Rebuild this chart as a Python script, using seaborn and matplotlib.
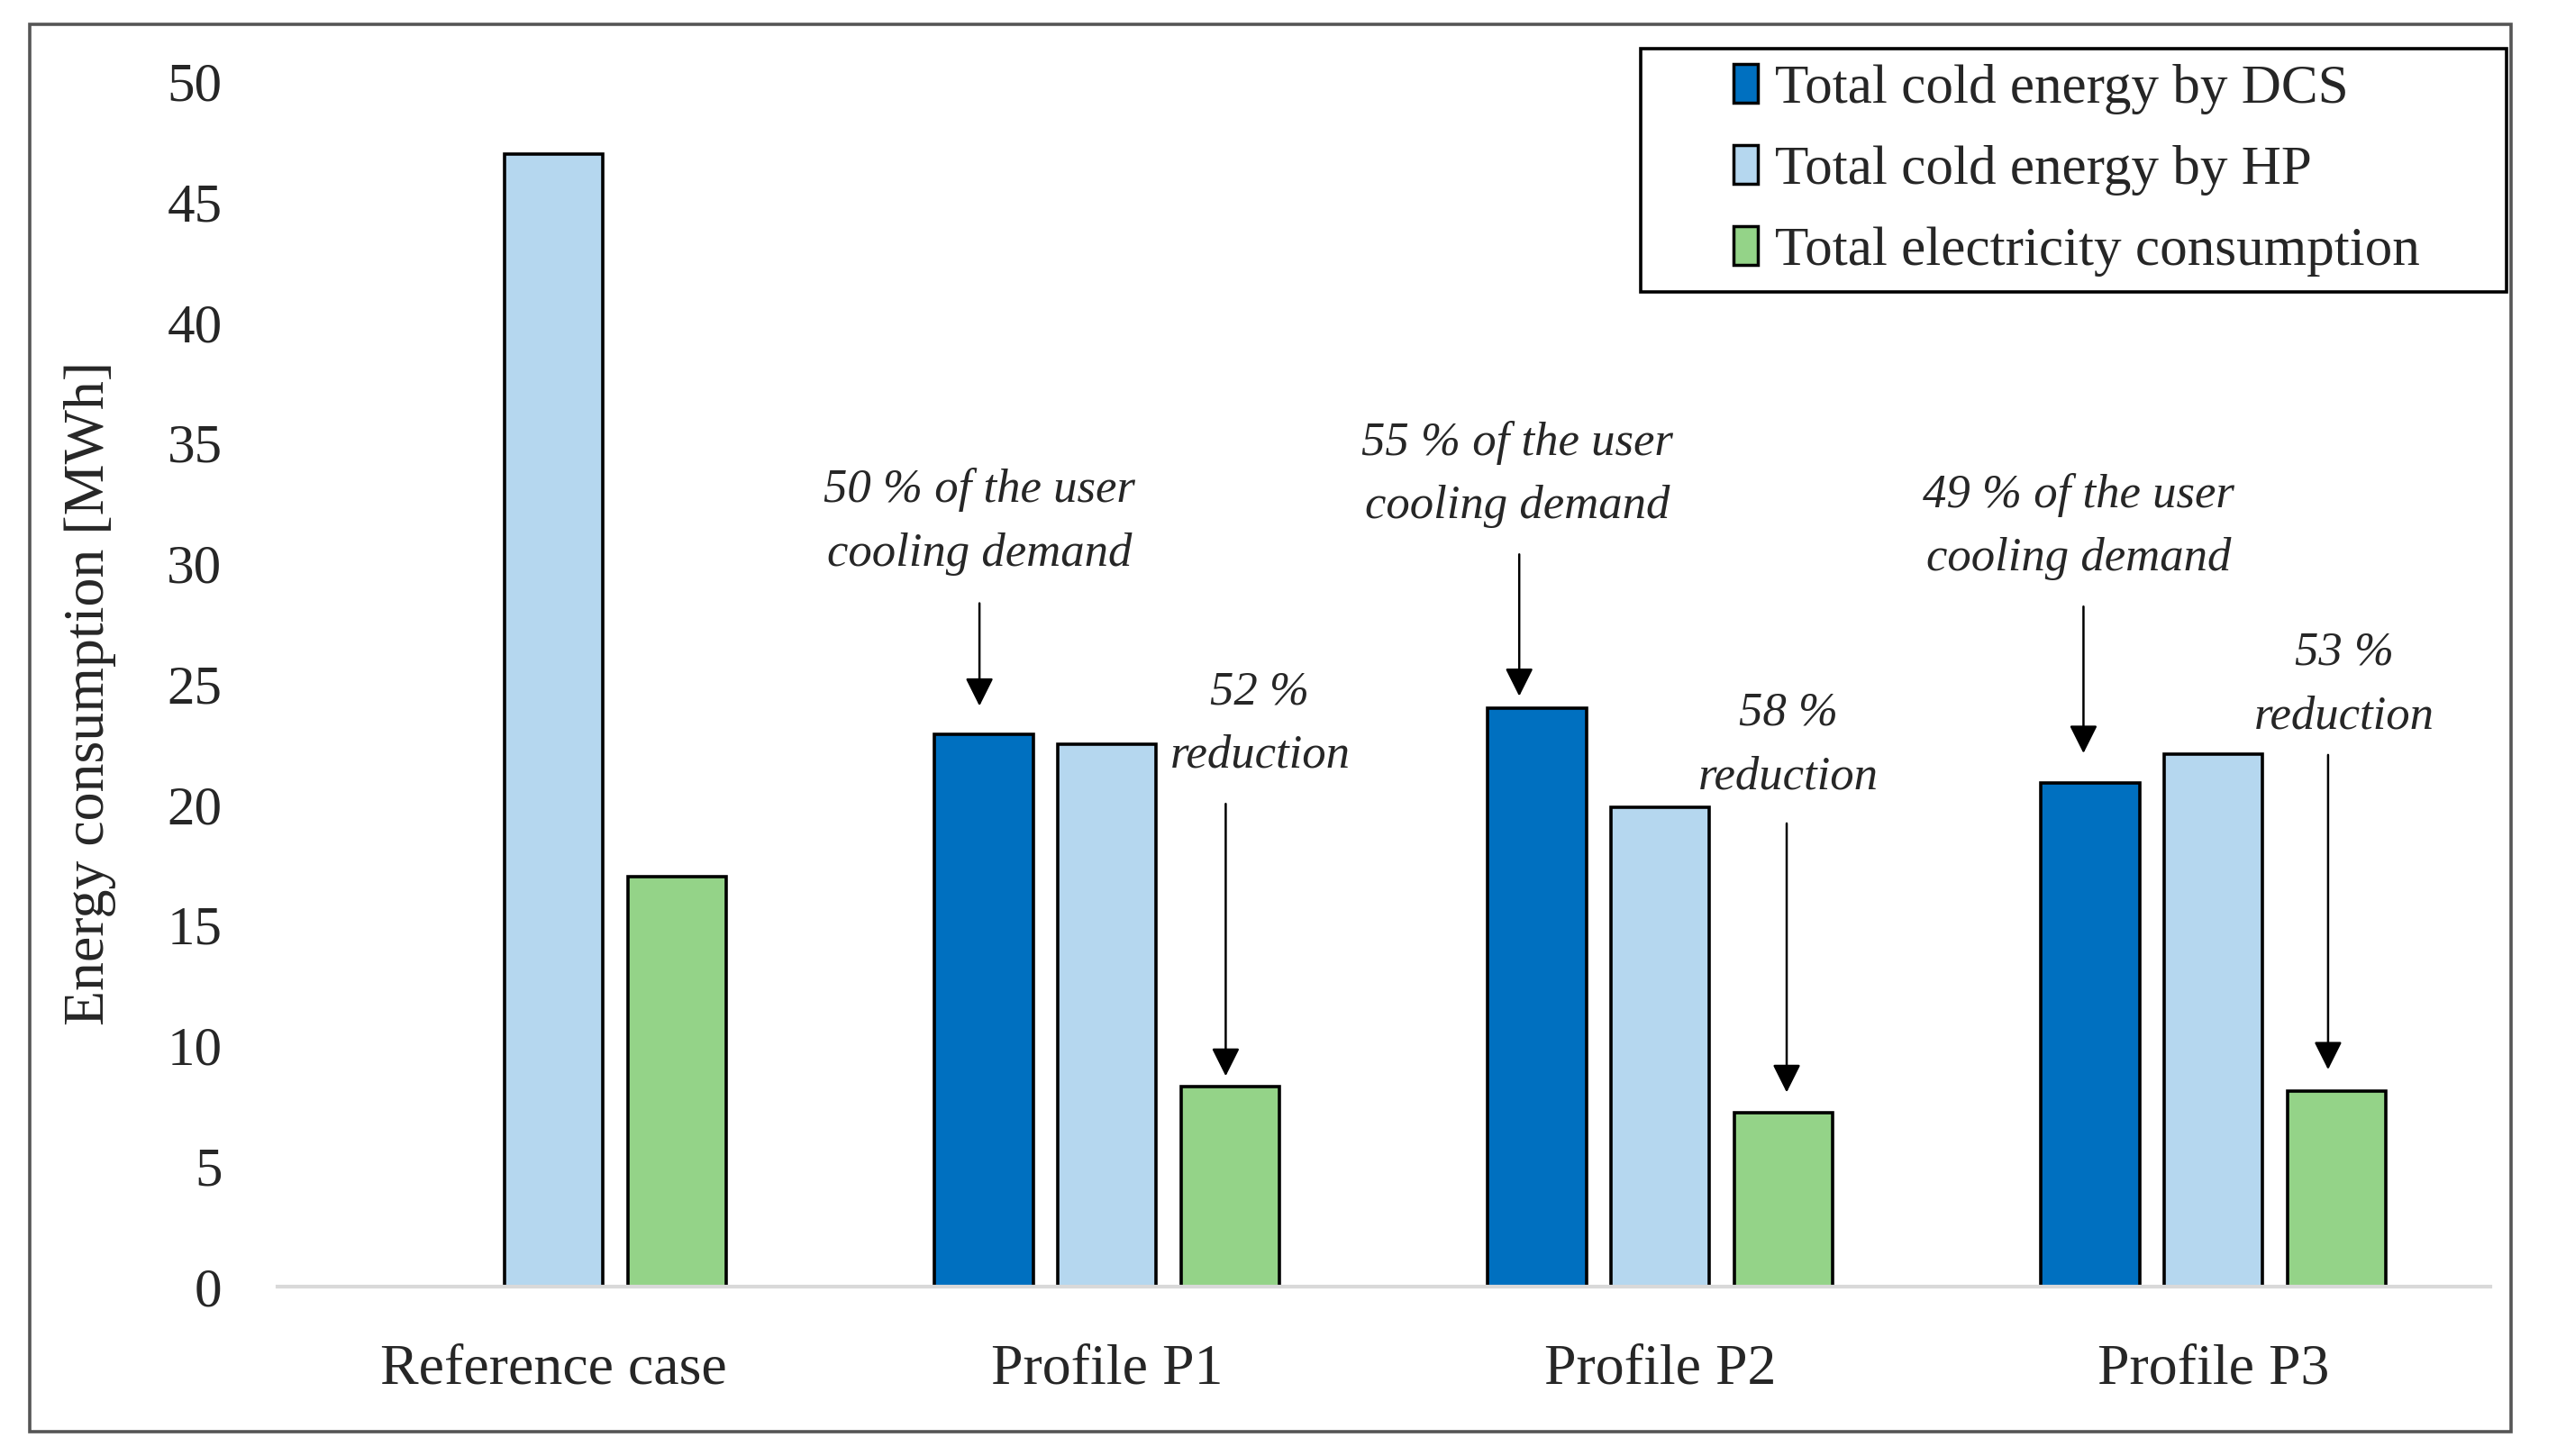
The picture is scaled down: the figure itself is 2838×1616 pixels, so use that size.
import numpy as np
import pandas as pd
import matplotlib
matplotlib.use("Agg")
import matplotlib.pyplot as plt
import matplotlib.patches as mpatches
import seaborn as sns

# ---------------- data ----------------
categories = ["Reference case", "Profile P1", "Profile P2", "Profile P3"]
series = ["Total cold energy by DCS", "Total cold energy by HP", "Total electricity consumption"]
dcs_values = [np.nan, 22.9, 24.0, 20.9]
hp_values = [47.0, 22.5, 19.9, 22.1]
elec_values = [17.0, 8.3, 7.2, 8.1]
colors = ["#0070C0", "#B5D7EF", "#94D388"]
demand_notes = ["50 % of the user\ncooling demand", "55 % of the user\ncooling demand", "49 % of the user\ncooling demand"]
reduction_notes = ["52 %\nreduction", "58 %\nreduction", "53 %\nreduction"]
yticks = [0, 5, 10, 15, 20, 25, 30, 35, 40, 45, 50]

rows = []
for s, vals in zip(series, [dcs_values, hp_values, elec_values]):
    for c, v in zip(categories, vals):
        rows.append({"case": c, "series": s, "value": v})
df = pd.DataFrame(rows)

sns.set_theme(style="white")
plt.rcParams["font.family"] = ["Liberation Serif", "DejaVu Serif"]

W, H = 2838, 1616
fig = plt.figure(figsize=(W / 100, H / 100), dpi=100)
DW, DH = 1568.0, 893.0
ax = fig.add_axes([170 / DW, 1 - 789 / DH, (1527 - 170) / DW, (789 - 50) / DH])

sns.barplot(data=df, x="case", y="value", hue="series", order=categories,
            hue_order=series, palette=colors, saturation=1, width=0.668, gap=0.2,
            edgecolor="black", linewidth=2.6, ax=ax, errorbar=None)

ax.set_ylim(0, 50)
ax.set_xlim(-0.5, 3.5)
ax.set_yticks(yticks)
ax.set_yticklabels([str(t) for t in yticks])
ax.tick_params(axis="y", length=0, pad=44, labelsize=44)
ax.tick_params(axis="x", length=0, pad=46, labelsize=46)
ax.set_xlabel("")
ax.set_ylabel("Energy consumption [MWh]", fontsize=46)
ax.yaxis.label.set_va("center")
ax.yaxis.set_label_coords(55 / DW, 1 - 425 / DH, transform=fig.transFigure)
for sp in ["top", "right", "left"]:
    ax.spines[sp].set_visible(False)
ax.spines["bottom"].set_color("#D9D9D9")
ax.spines["bottom"].set_linewidth(3)

# annotations
def dx(x):
    return (x - 340) / 339.25

def dy(y):
    return (789 - y) / 14.78

arrow = dict(arrowstyle="-|>", color="black", lw=1.8, mutation_scale=48, shrinkA=0, shrinkB=0)
demand_pos = [(601, 320, 601, 370, 433), (931, 291, 932, 340, 427), (1275, 323, 1278, 372, 462)]
red_pos = [(773, 444, 752, 493, 660), (1097, 457, 1096, 505, 670), (1438, 420, 1428, 463, 656)]
for note, (tx, ty, ax_x, y0, y1) in zip(demand_notes, demand_pos):
    ax.text(dx(tx), dy(ty), note, ha="center", va="center", fontsize=38,
            fontstyle="italic", linespacing=1.6)
    ax.annotate("", xy=(dx(ax_x), dy(y1)), xytext=(dx(ax_x), dy(y0)), arrowprops=arrow)
for note, (tx, ty, ax_x, y0, y1) in zip(reduction_notes, red_pos):
    ax.text(dx(tx), dy(ty), note, ha="center", va="center", fontsize=38,
            fontstyle="italic", linespacing=1.6)
    ax.annotate("", xy=(dx(ax_x), dy(y1)), xytext=(dx(ax_x), dy(y0)), arrowprops=arrow)

# legend
handles, labels = ax.get_legend_handles_labels()
if ax.get_legend() is not None:
    ax.get_legend().remove()
leg = fig.legend(handles, labels, loc="center left",
                 bbox_to_anchor=(1063 / DW, 1 - 104.5 / DH), bbox_transform=fig.transFigure,
                 frameon=False, fontsize=44, handlelength=0.45, handleheight=0.7,
                 handletextpad=0.3, labelspacing=0.56, borderpad=0, borderaxespad=0)
for h in leg.legend_handles:
    h.set_edgecolor("black")
    h.set_linewidth(2.5)

fig.patches.append(mpatches.Rectangle((1006 / DW, 1 - 179 / DH), (1537 - 1006) / DW, (179 - 30) / DH,
                                      transform=fig.transFigure, fill=False, edgecolor="black",
                                      linewidth=2.6, zorder=5))
fig.patches.append(mpatches.Rectangle((18 / DW, 1 - 878 / DH), (1540 - 18) / DW, (878 - 15) / DH,
                                      transform=fig.transFigure, fill=False, edgecolor="#555555",
                                      linewidth=2.6, zorder=5))

fig.savefig("out.png", dpi=100, facecolor="white")
